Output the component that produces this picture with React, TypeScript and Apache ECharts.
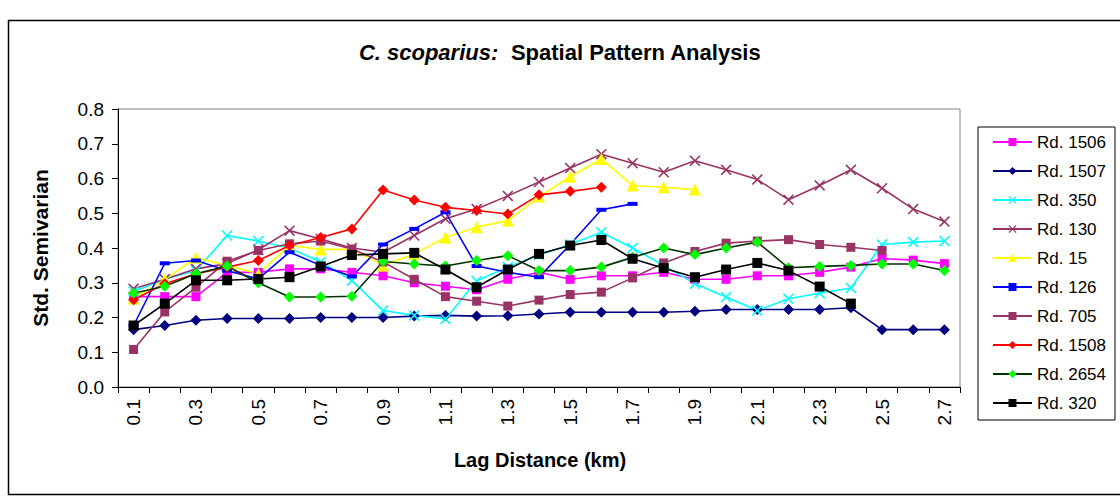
import React, { useEffect, useRef } from "react";
import * as echarts from "echarts";

const categories = ["0.1","0.2","0.3","0.4","0.5","0.6","0.7","0.8","0.9","1.0","1.1","1.2","1.3","1.4","1.5","1.6","1.7","1.8","1.9","2.0","2.1","2.2","2.3","2.4","2.5","2.6","2.7"];

const rd1506 = [0.26,0.26,0.26,0.33,0.33,0.34,0.34,0.33,0.32,0.30,0.29,0.28,0.31,0.33,0.31,0.32,0.32,0.33,0.31,0.31,0.32,0.32,0.33,0.345,0.37,0.365,0.355];
const rd1507 = [0.165,0.177,0.192,0.197,0.197,0.197,0.2,0.2,0.2,0.204,0.206,0.204,0.205,0.21,0.215,0.215,0.215,0.215,0.218,0.223,0.223,0.223,0.223,0.228,0.165,0.165,0.165];
const rd350 = [0.275,0.31,0.335,0.436,0.42,0.40,0.36,0.306,0.22,0.206,0.196,0.305,0.345,0.38,0.41,0.445,0.40,0.35,0.297,0.259,0.22,0.254,0.27,0.285,0.41,0.417,0.42];
const rd130 = [0.283,0.31,0.34,0.355,0.395,0.45,0.426,0.40,0.388,0.436,0.484,0.512,0.55,0.59,0.63,0.67,0.644,0.618,0.651,0.625,0.597,0.539,0.58,0.625,0.572,0.512,0.476];
const rd15 = [0.255,0.309,0.372,0.35,0.326,0.407,0.396,0.396,0.35,0.383,0.43,0.46,0.479,0.548,0.605,0.656,0.58,0.575,0.568,null,null,null,null,null,null,null,null];
const rd126 = [0.177,0.356,0.364,0.335,0.311,0.388,0.35,0.318,0.41,0.455,0.503,0.348,0.33,0.316,0.41,0.51,0.527,null,null,null,null,null,null,null,null,null,null];
const rd705 = [0.108,0.216,0.287,0.362,0.393,0.412,0.42,0.397,0.36,0.31,0.26,0.247,0.233,0.25,0.266,0.273,0.314,0.357,0.39,0.414,0.42,0.424,0.41,0.402,0.393,null,null];
const rd1508 = [0.251,0.297,0.326,0.345,0.364,0.407,0.43,0.455,0.567,0.538,0.517,0.508,0.498,0.553,0.563,0.575,null,null,null,null,null,null,null,null,null,null,null];
const rd2654 = [0.27,0.29,0.326,0.348,0.30,0.259,0.259,0.261,0.361,0.354,0.348,0.364,0.378,0.335,0.335,0.345,0.373,0.40,0.381,0.40,0.417,0.343,0.347,0.35,0.354,0.354,0.335];
const rd320 = [0.177,0.24,0.307,0.307,0.311,0.316,0.347,0.38,0.383,0.386,0.338,0.287,0.338,0.383,0.407,0.423,0.369,0.342,0.316,0.338,0.357,0.335,0.289,0.24,null,null,null];

const FONT = "'Liberation Sans', Arial, sans-serif";
const X_PATH = "path://M0,1L1,0L5,4L9,0L10,1L6,5L10,9L9,10L5,6L1,10L0,9L4,5Z";
const DASH_PATH = "path://M0,0H10V3H0Z";

type Def = { name: string; data: (number | null)[]; line: string; fill: string; symbol: string; size: number | number[] };

const defs: Def[] = [
  { name: "Rd. 1506", data: rd1506, line: "#FF00FF", fill: "#FF00FF", symbol: "rect", size: 9 },
  { name: "Rd. 1507", data: rd1507, line: "#000080", fill: "#000080", symbol: "diamond", size: 11 },
  { name: "Rd. 350", data: rd350, line: "#00FFFF", fill: "#00FFFF", symbol: X_PATH, size: 11 },
  { name: "Rd. 130", data: rd130, line: "#993366", fill: "#993366", symbol: X_PATH, size: 11 },
  { name: "Rd. 15", data: rd15, line: "#FFFF00", fill: "#FFFF00", symbol: "triangle", size: 12 },
  { name: "Rd. 126", data: rd126, line: "#0000FF", fill: "#0000FF", symbol: DASH_PATH, size: [10, 4] },
  { name: "Rd. 705", data: rd705, line: "#993366", fill: "#993366", symbol: "rect", size: 9 },
  { name: "Rd. 1508", data: rd1508, line: "#FF0000", fill: "#FF0000", symbol: "diamond", size: 11 },
  { name: "Rd. 2654", data: rd2654, line: "#003300", fill: "#00FF00", symbol: "diamond", size: 11 },
  { name: "Rd. 320", data: rd320, line: "#000000", fill: "#000000", symbol: "rect", size: 10 },
];

export default function App() {
  const ref = useRef<HTMLDivElement>(null);
  useEffect(() => {
    if (!ref.current) return;
    const chart = echarts.init(ref.current, undefined, { renderer: "svg" });
    chart.setOption({
      animation: false,
      backgroundColor: "#ffffff",
      title: {
        text: "{a|C. scoparius:}{b|  Spatial Pattern Analysis}",
        left: "center",
        top: 36,
        textStyle: {
          rich: {
            a: { fontStyle: "italic", fontWeight: "bold", fontSize: 22, fontFamily: FONT, color: "#000" },
            b: { fontWeight: "bold", fontSize: 22, fontFamily: FONT, color: "#000" },
          },
        },
      },
      legend: {
        orient: "vertical",
        left: 978,
        top: 127,
        padding: [5, 9, 7, 14],
        borderColor: "#000",
        borderWidth: 1,
        itemWidth: 39,
        itemHeight: 10,
        itemGap: 9,
        textStyle: { fontFamily: FONT, fontSize: 17, color: "#000", lineHeight: 20, padding: [0, 0, 0, 0] },
        data: defs.map((d) => d.name),
      },
      grid: {
        left: 118,
        right: 160,
        top: 109,
        bottom: 109,
        show: true,
        borderColor: "#808080",
        borderWidth: 1,
        backgroundColor: "transparent",
      },
      xAxis: {
        type: "category",
        data: categories,
        boundaryGap: true,
        axisLine: { lineStyle: { color: "#000", width: 1 } },
        axisTick: { show: true, interval: 0, length: 6, lineStyle: { color: "#000" } },
        axisLabel: { interval: 1, rotate: 90, margin: 12, fontFamily: FONT, fontSize: 19, color: "#000" },
        splitLine: { show: false },
      },
      yAxis: {
        type: "value",
        min: 0,
        max: 0.8,
        interval: 0.1,
        axisLine: { show: true, lineStyle: { color: "#000", width: 1 } },
        axisTick: { show: true, length: 6, lineStyle: { color: "#000" } },
        axisLabel: { margin: 14, fontFamily: FONT, fontSize: 19, color: "#000", formatter: (v: number) => v.toFixed(1) },
        splitLine: { show: false },
      },
      graphic: [
        {
          type: "rect",
          silent: true,
          z: -10,
          shape: { x: 8.5, y: 20.5, width: 1130, height: 474 },
          style: { fill: "none", stroke: "#000", lineWidth: 1.5 },
        },
        {
          type: "text",
          x: 540,
          y: 460,
          style: { text: "Lag Distance (km)", align: "center", verticalAlign: "middle", fontFamily: FONT, fontSize: 20, fontWeight: "bold", fill: "#000" },
        },
        {
          type: "text",
          x: 40,
          y: 248,
          rotation: Math.PI / 2,
          style: { text: "Std. Semivarian", align: "center", verticalAlign: "middle", fontFamily: FONT, fontSize: 21, fontWeight: "bold", fill: "#000" },
        },
      ],
      series: defs.map((d) => ({
        name: d.name,
        type: "line",
        data: d.data,
        symbol: d.symbol,
        symbolSize: d.size,
        showAllSymbol: true,
        connectNulls: false,
        lineStyle: { color: d.line, width: 1.6 },
        itemStyle: { color: d.fill, borderColor: d.fill, borderWidth: 0 },
        emphasis: { disabled: true },
      })),
    });
    return () => chart.dispose();
  }, []);
  return <div ref={ref} style={{ position: "absolute", left: 0, top: 0, width: 1120, height: 496 }} />;
}
